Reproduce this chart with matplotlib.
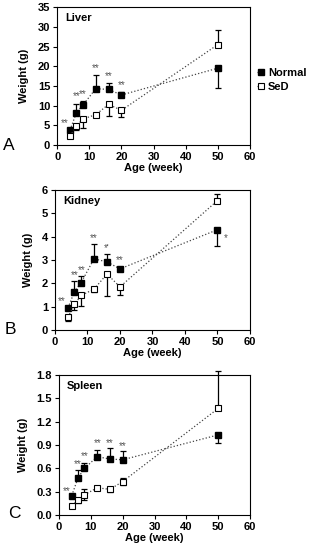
import matplotlib
matplotlib.use("Agg")
import matplotlib.pyplot as plt

plt.rcParams['font.family'] = ['Liberation Sans', 'DejaVu Sans']

weeks = [4, 6, 8, 12, 16, 20, 50]

liver_normal = [3.8, 8.2, 10.1, 14.3, 14.1, 12.7, 19.5]
liver_normal_err = [0.0, 2.3, 1.1, 3.4, 1.7, 0.8, 5.0]
liver_sed = [2.3, 4.8, 6.6, 7.7, 10.3, 8.8, 25.5]
liver_sed_err = [0.0, 1.1, 2.3, 0.5, 3.0, 1.6, 3.8]

kidney_normal = [0.95, 1.65, 2.02, 3.05, 2.92, 2.62, 4.3]
kidney_normal_err = [0.0, 0.45, 0.28, 0.65, 0.33, 0.1, 0.7]
kidney_sed = [0.55, 1.1, 1.48, 1.75, 2.4, 1.85, 5.55]
kidney_sed_err = [0.15, 0.25, 0.43, 0.13, 0.95, 0.35, 0.3]

spleen_normal = [0.25, 0.48, 0.60, 0.75, 0.72, 0.71, 1.03]
spleen_normal_err = [0.0, 0.10, 0.07, 0.08, 0.14, 0.11, 0.11]
spleen_sed = [0.12, 0.19, 0.26, 0.35, 0.33, 0.43, 1.37]
spleen_sed_err = [0.0, 0.03, 0.07, 0.03, 0.03, 0.05, 0.48]

organs = ["Liver", "Kidney", "Spleen"]
panel_letters = ["A", "B", "C"]
y_limits = [35, 6, 1.8]
y_ticks = [[0, 5, 10, 15, 20, 25, 30, 35],
           [0, 1, 2, 3, 4, 5, 6],
           [0.0, 0.3, 0.6, 0.9, 1.2, 1.5, 1.8]]
y_ticklabels = [[str(v) for v in y_ticks[0]],
                [str(v) for v in y_ticks[1]],
                ["%.1f" % v for v in y_ticks[2]]]
x_ticks = [0, 10, 20, 30, 40, 50, 60]

# significance marks: (x, y, text)
liver_sig = [(2.2, 5.6, "**"), (6, 12.3, "**"), (8, 12.9, "**"), (12, 19.5, "**"),
             (16, 17.4, "**"), (20, 15.1, "**")]
kidney_sig = [(2.2, 1.22, "**"), (6, 2.35, "**"), (8.2, 2.55, "**"), (12, 3.95, "**"),
              (16, 3.5, "*'"), (20, 2.98, "**"), (52.5, 3.95, "*")]
spleen_sig = [(2.5, 0.31, "**"), (6, 0.65, "**"), (8, 0.76, "**"), (12, 0.92, "**"),
              (16, 0.93, "**"), (20, 0.89, "**")]

normal_data = [liver_normal, kidney_normal, spleen_normal]
normal_errs = [liver_normal_err, kidney_normal_err, spleen_normal_err]
sed_data = [liver_sed, kidney_sed, spleen_sed]
sed_errs = [liver_sed_err, kidney_sed_err, spleen_sed_err]
sigs = [liver_sig, kidney_sig, spleen_sig]

fig = plt.figure(figsize=(3.09, 5.5), dpi=100)
positions = [[0.185, 0.7364, 0.624, 0.2506],
             [0.178, 0.4, 0.631, 0.2545],
             [0.191, 0.0636, 0.618, 0.2546]]
letter_pos = [(0.03, 0.736), (0.035, 0.40), (0.048, 0.066)]

for i in range(3):
    ax = fig.add_axes(positions[i])
    n = normal_data[i]
    s = sed_data[i]
    ne = normal_errs[i]
    se = sed_errs[i]
    # Normal errors: up except last (down); SeD errors: down except last (up)
    n_lo = [0] * 6 + [ne[6]]
    n_hi = ne[:6] + [0]
    s_lo = se[:6] + [0]
    s_hi = [0] * 6 + [se[6]]
    if i == 2:
        s_hi = [0, 0, 0.07, 0, 0, 0.05, se[6]]
    eb1 = ax.errorbar(weeks, s, yerr=[s_lo, s_hi], fmt='none', ecolor='black',
                      elinewidth=0.9, capsize=2, capthick=0.9, zorder=2)
    eb2 = ax.errorbar(weeks, n, yerr=[n_lo, n_hi], fmt='none', ecolor='black',
                      elinewidth=0.9, capsize=2, capthick=0.9, zorder=2)
    for eb in (eb1, eb2):
        for art in eb.lines[1]:
            art.set_clip_on(False)
        for art in eb.lines[2]:
            art.set_clip_on(False)
    ax.plot(weeks, n, linestyle=':', color='#444444', linewidth=0.9, marker='s',
            markersize=4.8, markerfacecolor='black', markeredgecolor='black',
            label='Normal', zorder=3)
    ax.plot(weeks, s, linestyle=':', color='#444444', linewidth=0.9, marker='s',
            markersize=4.8, markerfacecolor='white', markeredgecolor='black',
            markeredgewidth=0.8, label='SeD', zorder=3)
    for (x, y, t) in sigs[i]:
        ax.text(x, y, t, ha='center', va='center', fontsize=7, color='#555555')
    ax.set_xlim(0, 60)
    ax.set_ylim(0, y_limits[i])
    ax.set_xticks(x_ticks)
    ax.set_xticklabels([str(v) for v in x_ticks], fontsize=8, fontweight='bold')
    ax.set_yticks(y_ticks[i])
    ax.set_yticklabels(y_ticklabels[i], fontsize=8, fontweight='bold')
    ax.tick_params(direction='out', length=3, width=0.8, pad=2)
    for sp in ax.spines.values():
        sp.set_linewidth(0.8)
    ax.set_xlabel("Age (week)", fontsize=8, fontweight='bold', labelpad=1)
    ax.set_ylabel("Weight (g)", fontsize=8, fontweight='bold', labelpad=6)
    ax.text(0.04, 0.92, organs[i], transform=ax.transAxes, fontsize=8,
            fontweight='bold', ha='left', va='center')
    fig.text(letter_pos[i][0], letter_pos[i][1], panel_letters[i], fontsize=12.5,
             ha='center', va='center')
    if i == 0:
        ax.legend(loc='center left', bbox_to_anchor=(1.0, 0.47), frameon=False,
                  prop={'weight': 'bold', 'size': 8}, handlelength=0.7,
                  handletextpad=0.3, borderaxespad=0.2, labelspacing=0.35,
                  markerscale=0.85)

fig.savefig("out.png", dpi=100)
